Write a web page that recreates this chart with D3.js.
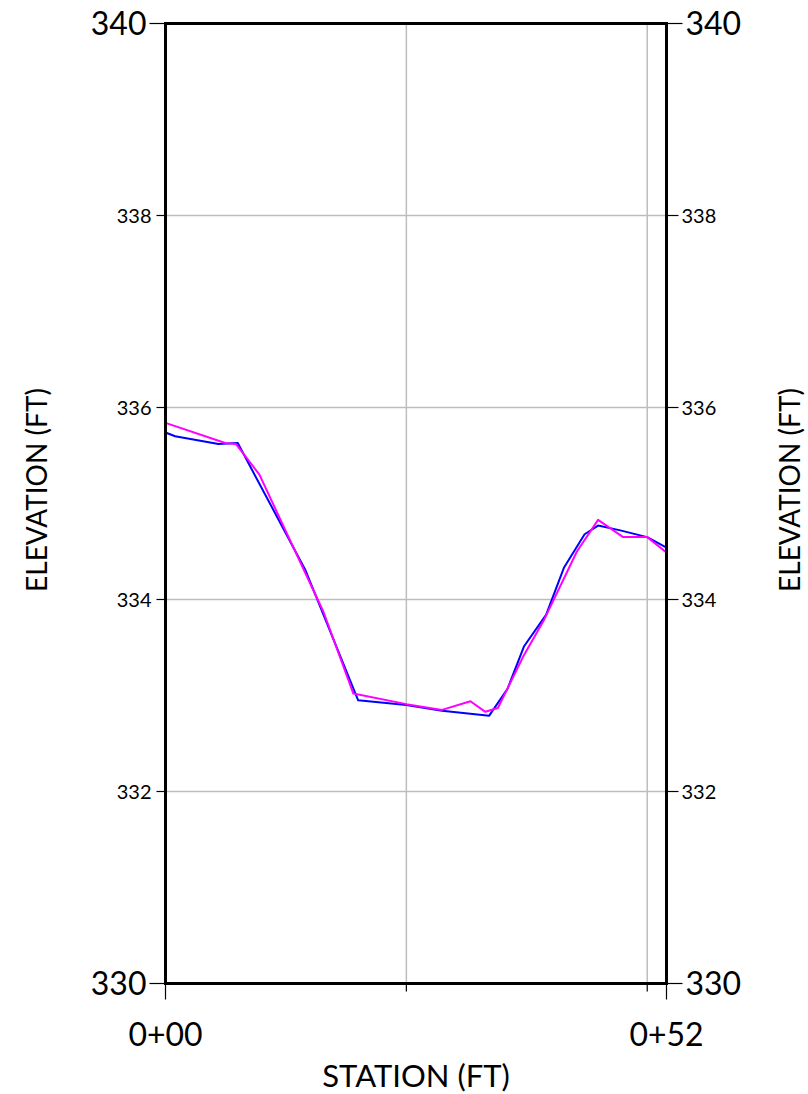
<!DOCTYPE html>
<html>
<head>
<meta charset="utf-8">
<script src="https://cdn.jsdelivr.net/npm/d3@7"></script>
<style>
  html, body { margin: 0; padding: 0; background: #fff; }
  svg { display: block; font-family: Lato, "Open Sans", sans-serif; }
</style>
</head>
<body>
<svg id="chart" width="808" height="1094"></svg>
<script>
// ---- data ----
const blueStation = [0, 1.0, 5.5, 7.5, 14.5, 20.0, 25.0, 28.7, 33.6, 35.5, 37.2, 39.5, 41.35, 43.5, 44.9, 47.2, 50.0, 52.0];
const blueElev    = [335.74, 335.70, 335.62, 335.63, 334.31, 332.95, 332.90, 332.84, 332.79, 333.07, 333.51, 333.84, 334.33, 334.68, 334.77, 334.72, 334.65, 334.54];
const magStation  = [0, 6.2, 7.3, 9.75, 16.4, 19.5, 25.0, 28.7, 31.65, 33.2, 34.5, 37.2, 39.3, 42.7, 44.9, 47.5, 50.0, 52.0];
const magElev     = [335.84, 335.63, 335.62, 335.30, 333.87, 333.02, 332.91, 332.85, 332.94, 332.83, 332.87, 333.42, 333.79, 334.50, 334.83, 334.65, 334.65, 334.49];
const yTicks      = [330, 332, 334, 336, 338, 340];
const yGrid       = [332, 334, 336, 338];
const xGrid       = [25, 50];
const xLabels     = [{s: 0, t: "0+00"}, {s: 52, t: "0+52"}];
const yTitle      = "ELEVATION (FT)";
const xTitle      = "STATION (FT)";

// ---- layout ----
const svg = d3.select("#chart");
const L = 165.5, R = 666.5, T = 23.5, B = 983.5;
const x = d3.scaleLinear().domain([0, 52]).range([L, R]);
const y = d3.scaleLinear().domain([330, 340]).range([B, T]);

// gridlines
svg.append("g").selectAll("line").data(yGrid).join("line")
  .attr("x1", L).attr("x2", R).attr("y1", d => y(d)).attr("y2", d => y(d))
  .attr("stroke", "#bdbdbd").attr("stroke-width", 1.5);
svg.append("g").selectAll("line").data(xGrid).join("line")
  .attr("y1", T).attr("y2", B).attr("x1", d => x(d)).attr("x2", d => x(d))
  .attr("stroke", "#bdbdbd").attr("stroke-width", 1.5);

// lines
const line = d3.line().x(d => x(d[0])).y(d => y(d[1]));
const blue = blueStation.map((s, i) => [s, blueElev[i]]);
const mag = magStation.map((s, i) => [s, magElev[i]]);
svg.append("path").datum(blue).attr("d", line).attr("fill", "none")
  .attr("stroke", "#0000ff").attr("stroke-width", 2).attr("stroke-linejoin", "round");
svg.append("path").datum(mag).attr("d", line).attr("fill", "none")
  .attr("stroke", "#ff00ff").attr("stroke-width", 2).attr("stroke-linejoin", "round");

// y ticks and labels
const isEnd = d => d === 330 || d === 340;
const yt = svg.append("g");
yt.selectAll(".tl").data(yTicks).join("line")
  .attr("x1", d => L - (isEnd(d) ? 16 : 9)).attr("x2", L)
  .attr("y1", d => y(d)).attr("y2", d => y(d))
  .attr("stroke", "#000").attr("stroke-width", 1.2);
yt.selectAll(".tr").data(yTicks).join("line")
  .attr("x1", R).attr("x2", d => R + (isEnd(d) ? 16 : 12))
  .attr("y1", d => y(d)).attr("y2", d => y(d))
  .attr("stroke", "#000").attr("stroke-width", 1.2);
yt.selectAll(".ll").data(yTicks).join("text")
  .attr("x", d => isEnd(d) ? L - 19 : L - 14)
  .attr("y", d => y(d)).attr("dy", "0.35em")
  .attr("text-anchor", "end")
  .attr("font-size", d => isEnd(d) ? 32 : 20)
  .text(d => d);
yt.selectAll(".lr").data(yTicks).join("text")
  .attr("x", d => isEnd(d) ? R + 19 : R + 15)
  .attr("y", d => y(d)).attr("dy", "0.35em")
  .attr("text-anchor", "start")
  .attr("font-size", d => isEnd(d) ? 32 : 20)
  .text(d => d);

// x ticks
const xt = svg.append("g");
xt.selectAll(".xm").data(xLabels).join("line")
  .attr("x1", d => x(d.s)).attr("x2", d => x(d.s))
  .attr("y1", B).attr("y2", B + 16)
  .attr("stroke", "#000").attr("stroke-width", 1.2);
xt.selectAll(".xn").data(xGrid).join("line")
  .attr("x1", d => x(d)).attr("x2", d => x(d))
  .attr("y1", B).attr("y2", B + 8)
  .attr("stroke", "#000").attr("stroke-width", 1.2);
xt.selectAll("text").data(xLabels).join("text")
  .attr("x", d => x(d.s)).attr("y", 1035).attr("dy", "0.35em")
  .attr("text-anchor", "middle").attr("font-size", 32)
  .text(d => d.t);

// frame
svg.append("rect").attr("x", L).attr("y", T).attr("width", R - L).attr("height", B - T)
  .attr("fill", "none").attr("stroke", "#000").attr("stroke-width", 3);

// titles
svg.append("text").attr("transform", `translate(37,490) rotate(-90)`)
  .attr("text-anchor", "middle").attr("dy", "0.35em").attr("font-size", 28).text(yTitle);
svg.append("text").attr("transform", `translate(790,490) rotate(-90)`)
  .attr("text-anchor", "middle").attr("dy", "0.35em").attr("font-size", 28).text(yTitle);
svg.append("text").attr("x", (L + R) / 2).attr("y", 1076).attr("dy", "0.35em")
  .attr("text-anchor", "middle").attr("font-size", 31).text(xTitle);
</script>
</body>
</html>
